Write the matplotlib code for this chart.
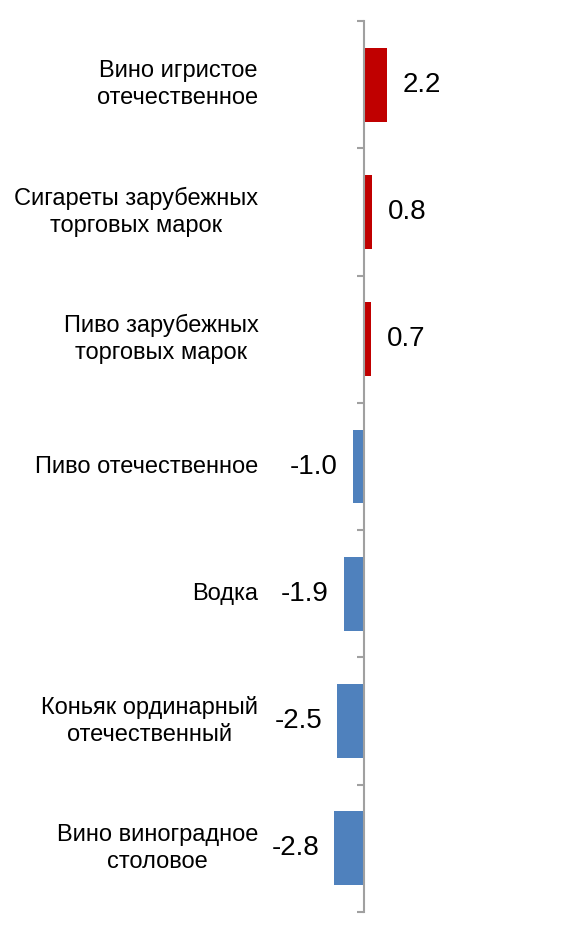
import numpy as np
import matplotlib.pyplot as plt

plt.rcParams["font.family"] = ["Liberation Sans", "DejaVu Sans"]

categories = ["Вино игристое\nотечественное",
              "Сигареты зарубежных\nторговых марок",
              "Пиво зарубежных\nторговых марок",
              "Пиво отечественное",
              "Водка",
              "Коньяк ординарный\nотечественный",
              "Вино виноградное\nстоловое"]
values = [2.2, 0.8, 0.7, -1.0, -1.9, -2.5, -2.8]

RED = "#C00000"
BLUE = "#4F81BD"
GRAY = "#A0A0A0"

fig = plt.figure(figsize=(5.72, 9.26), dpi=100)
W, H = 572, 926
scale = 10.6  # px per unit
xlo, xhi = -3.5, 3.5
axis_px = 364
left_px = axis_px + xlo * scale
ax = fig.add_axes([left_px / W, (H - 912) / H, (xhi - xlo) * scale / W, (912 - 21) / H])

y = np.arange(len(categories))
colors = [RED if v > 0 else BLUE for v in values]
ax.barh(y, values, height=0.58, color=colors)

ax.set_xlim(xlo, xhi)
ax.set_ylim(len(categories) - 0.5, -0.5)

for s in ["top", "right", "bottom"]:
    ax.spines[s].set_visible(False)
ax.spines["left"].set_position(("data", 0))
ax.spines["left"].set_color(GRAY)
ax.spines["left"].set_linewidth(1.5)
ax.spines["left"].set_zorder(3)
ax.set_xticks([])
ax.set_yticks(np.arange(len(categories) + 1) - 0.5)
ax.set_yticklabels([])
ax.tick_params(axis="y", direction="out", length=5, width=1.5, color=GRAY)

for yi, (cat, v) in enumerate(zip(categories, values)):
    ax.annotate(cat, xy=(0, yi), xytext=(-76, 0), textcoords="offset points",
                ha="right", va="center", fontsize=17, linespacing=1.28,
                multialignment="center")
    off = 11 if v > 0 else -11
    ax.annotate(f"{v:.1f}", xy=(v, yi), xytext=(off, 0), textcoords="offset points",
                ha="left" if v > 0 else "right", va="center", fontsize=20)

fig.savefig("out.png", dpi=100)
